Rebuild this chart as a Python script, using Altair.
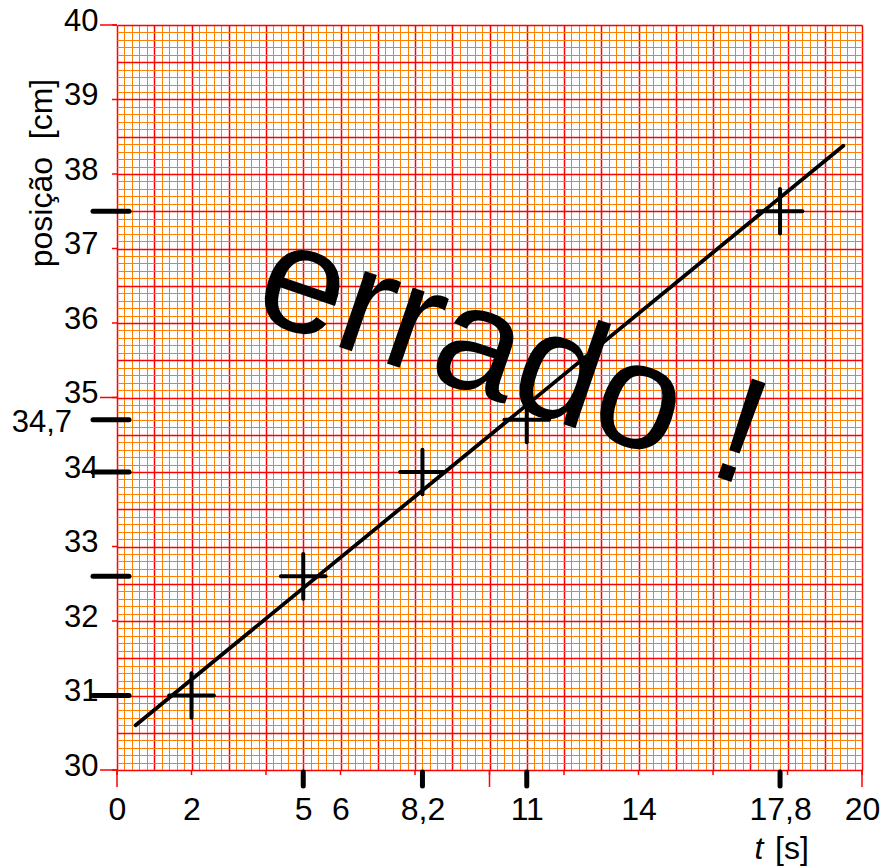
import altair as alt
import pandas as pd

# Measured times (s) and positions (cm)
t = [2, 5, 8.2, 11, 17.8]
pos = [31, 32.6, 34, 34.7, 37.5]
dt = 0.6    # uncertainty in t
dpos = 0.3  # uncertainty in position

# Hand-drawn straight line, end points
fit_t = [0.5, 19.5]
fit_pos = [30.6, 38.38]

# Axis labelling
x_labels = [0, 2, 5, 6, 8.2, 11, 14, 17.8, 20]
y_labels = list(range(30, 41))
y_extra_labels = [34.7]
x_ticks = list(range(0, 21, 2))
x_long_ticks = [0, 10, 20]
y_ticks = list(range(30, 41))
y_long_ticks = [30, 35, 40]

# Graph-paper rulings
x_grid = [round(0.2 * i, 1) for i in range(101)]
y_grid = [round(30 + 0.1 * i, 1) for i in range(101)]

RED = "#ff0000"
ORANGE = "#ff8000"
FONT = "Liberation Sans"
W, H = 745, 745

pts = pd.DataFrame({"t": t, "pos": pos})
pts["t_lo"] = pts["t"] - dt
pts["t_hi"] = pts["t"] + dt
pts["pos_lo"] = pts["pos"] - dpos
pts["pos_hi"] = pts["pos"] + dpos

xs = alt.Scale(domain=[0, 20], nice=False, zero=False)
ys = alt.Scale(domain=[30, 40], nice=False, zero=False)

x_label_list = ",".join(str(v) for v in x_labels)
y_label_list = ",".join(str(v) for v in y_labels)
x_axis = alt.Axis(
    values=x_grid,
    tickCount=1000,
    grid=True,
    gridColor={"condition": {"test": "abs(datum.value - round(datum.value)) < 0.001", "value": RED},
               "value": ORANGE},
    gridWidth={"condition": {"test": "abs(datum.value - round(datum.value)) < 0.001", "value": 1.5},
               "value": 1},
    gridOpacity=1,
    ticks=False,
    domain=False,
    format=".1~f",
    labelExpr=f"indexof([{x_label_list}], datum.value) >= 0 ? replace(datum.label, '.', ',') : ''",
    labelFont=FONT,
    labelFontSize=32,
    labelColor="black",
    labelPadding=24,
    labelFlush=False,
    labelOverlap=False,
)
y_axis = alt.Axis(
    values=y_grid,
    tickCount=1000,
    grid=True,
    gridColor={"condition": {"test": "abs(datum.value*2 - round(datum.value*2)) < 0.001", "value": RED},
               "value": ORANGE},
    gridWidth={"condition": {"test": "abs(datum.value*2 - round(datum.value*2)) < 0.001", "value": 1.5},
               "value": 1},
    gridOpacity=1,
    ticks=False,
    domain=False,
    format=".1~f",
    labelExpr=f"indexof([{y_label_list}], datum.value) >= 0 ? datum.label : ''",
    labelFont=FONT,
    labelFontSize=31,
    labelColor="black",
    labelPadding=19,
    labelOffset=-4,
    labelOverlap=False,
)

# Error bars
hbar = alt.Chart(pts).mark_rule(color="black", strokeWidth=4, strokeCap="round").encode(
    x=alt.X("t_lo:Q", scale=xs, axis=x_axis, title=None),
    x2="t_hi:Q",
    y=alt.Y("pos:Q", scale=ys, axis=y_axis, title=None),
)
vbar = alt.Chart(pts).mark_rule(color="black", strokeWidth=4, strokeCap="round").encode(
    x=alt.X("t:Q", scale=xs),
    y=alt.Y("pos_lo:Q", scale=ys),
    y2="pos_hi:Q",
)

# Straight line drawn by hand
fit = alt.Chart(pd.DataFrame({"t": fit_t, "pos": fit_pos})).mark_line(
    color="black", strokeWidth=3.8, strokeCap="round"
).encode(x=alt.X("t:Q", scale=xs), y=alt.Y("pos:Q", scale=ys))

# Red axis ticks
xt = alt.Chart(pd.DataFrame({"v": x_ticks})).mark_rule(color=RED, strokeWidth=1.5).encode(
    x=alt.X("v:Q", scale=xs), y=alt.value(H), y2=alt.value(H + 5))
xtl = alt.Chart(pd.DataFrame({"v": x_long_ticks})).mark_rule(color=RED, strokeWidth=1.5).encode(
    x=alt.X("v:Q", scale=xs), y=alt.value(H), y2=alt.value(H + 17))
yt = alt.Chart(pd.DataFrame({"v": y_ticks})).mark_rule(color=RED, strokeWidth=1.5).encode(
    y=alt.Y("v:Q", scale=ys), x=alt.value(-5), x2=alt.value(0))
ytl = alt.Chart(pd.DataFrame({"v": y_long_ticks})).mark_rule(color=RED, strokeWidth=1.5).encode(
    y=alt.Y("v:Q", scale=ys), x=alt.value(-17), x2=alt.value(0))

# Black marks of the measured values on both axes
bx = alt.Chart(pd.DataFrame({"v": t[1:]})).mark_rule(
    color="black", strokeWidth=5, strokeCap="round").encode(
    x=alt.X("v:Q", scale=xs), y=alt.value(H + 2), y2=alt.value(H + 16))
by = alt.Chart(pd.DataFrame({"v": pos})).mark_rule(
    color="black", strokeWidth=5, strokeCap="round").encode(
    y=alt.Y("v:Q", scale=ys), x=alt.value(-24), x2=alt.value(12))

extra = pd.DataFrame({"v": y_extra_labels})
extra["txt"] = [f"{v}".replace(".", ",") for v in y_extra_labels]
ylab = alt.Chart(extra).mark_text(
    font=FONT, fontSize=31, align="right", baseline="middle", color="black", dy=3).encode(
    y=alt.Y("v:Q", scale=ys), x=alt.value(-45), text="txt:N")

# Axis titles
ytitle = alt.Chart(pd.DataFrame({"s": ["posição\u00a0 [cm]"]})).mark_text(
    font=FONT, fontSize=32, angle=270, align="center", baseline="alphabetic", color="black"
).encode(x=alt.value(-65), y=alt.value(148), text="s:N")
xtitle_t = alt.Chart(pd.DataFrame({"s": ["t"]})).mark_text(
    font=FONT, fontSize=32, fontStyle="italic", align="center", baseline="alphabetic", color="black"
).encode(x=alt.value(642), y=alt.value(834), text="s:N")
xtitle_u = alt.Chart(pd.DataFrame({"s": ["[s]"]})).mark_text(
    font=FONT, fontSize=32, align="center", baseline="alphabetic", color="black"
).encode(x=alt.value(675), y=alt.value(834), text="s:N")

# Large annotation across the graph
note = alt.Chart(pd.DataFrame({"t": [10.2], "pos": [34.95], "s": ["errado !"]})).mark_text(
    font=FONT, fontSize=152, angle=19, align="center", baseline="alphabetic", color="black"
).encode(x=alt.X("t:Q", scale=xs), y=alt.Y("pos:Q", scale=ys), text="s:N")

chart = alt.layer(
    hbar, vbar, fit, xt, xtl, yt, ytl, bx, by, ylab, ytitle, xtitle_t, xtitle_u, note
).properties(
    width=W, height=H,
    autosize=alt.AutoSizeParams(type="none"),
    padding={"left": 117, "top": 25, "right": 18, "bottom": 98},
).configure_view(stroke=None).configure(background="white")

chart.save("out.html", embed_options={"renderer": "svg", "actions": False})
